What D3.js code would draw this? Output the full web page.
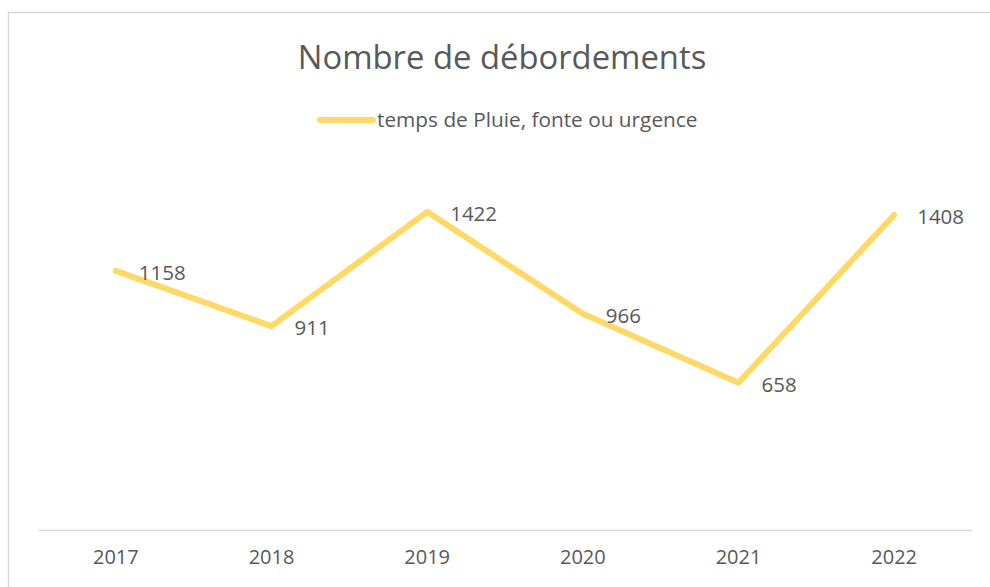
<!DOCTYPE html>
<html lang="fr">
<head>
    <meta charset="UTF-8">
    <title>Nombre de débordements</title>
    <script src="https://cdn.jsdelivr.net/npm/d3@7/dist/d3.min.js"></script>
    <style>
        body { margin: 0; background: #fff; }
        text { font-family: "Open Sans", sans-serif; fill: #595959; }
    </style>
</head>
<body>
    <svg width="990" height="587" id="mainsvg" style="display: block;"></svg>
    <script>
        const years = ["2017", "2018", "2019", "2020", "2021", "2022"];
        const values = [1158, 911, 1422, 966, 658, 1408];
        const seriesName = "temps de Pluie, fonte ou urgence";
        const title = "Nombre de débordements";

        const svg = d3.select("#mainsvg");
        const width = +svg.attr("width");
        const height = +svg.attr("height");
        const margin = {top: 172, right: 18, bottom: 57, left: 38};
        const innerWidth = width - margin.left - margin.right;
        const innerHeight = height - margin.top - margin.bottom;
        const lineColor = "#ffd966";

        // chart frame (only top and left edges are visible)
        svg.append("path")
            .attr("d", `M8.5,${height} V12.5 H${width}`)
            .attr("fill", "none")
            .attr("stroke", "#d9d9d9")
            .attr("stroke-width", 1.5);

        svg.append("text")
            .attr("x", 502).attr("y", 69)
            .attr("text-anchor", "middle")
            .attr("font-size", 32.8)
            .text(title);

        // legend
        const legend = svg.append("g").attr("transform", "translate(320, 120)");
        legend.append("line")
            .attr("x1", 0).attr("x2", 53)
            .attr("stroke", lineColor)
            .attr("stroke-width", 6)
            .attr("stroke-linecap", "round");
        legend.append("text")
            .attr("x", 57).attr("dy", "0.35em")
            .attr("font-size", 20.8)
            .text(seriesName);

        const g = svg.append("g")
            .attr("transform", `translate(${margin.left}, ${margin.top})`);

        const x = d3.scaleBand().domain(years).range([0, innerWidth]);
        const y = d3.scaleLinear().domain([0, 1600]).range([innerHeight, 0]);

        const xAxis = g.append("g")
            .attr("transform", `translate(0, ${innerHeight})`)
            .call(d3.axisBottom(x).tickSize(0).tickPadding(20));
        xAxis.select(".domain").attr("stroke", "#d9d9d9").attr("stroke-width", 1.5);
        xAxis.selectAll("text")
            .attr("font-size", 20)
            .attr("font-family", "Open Sans, sans-serif")
            .attr("fill", "#595959");

        const cx = d => x(d) + x.bandwidth() / 2;

        g.append("path")
            .datum(values)
            .attr("fill", "none")
            .attr("stroke", lineColor)
            .attr("stroke-width", 6)
            .attr("stroke-linecap", "round")
            .attr("stroke-linejoin", "round")
            .attr("d", d3.line().x((d, i) => cx(years[i])).y(d => y(d)));

        g.selectAll(".label").data(values).join("text")
            .attr("class", "label")
            .attr("x", (d, i) => cx(years[i]) + 23)
            .attr("y", d => y(d) + 2)
            .attr("dy", "0.35em")
            .attr("font-size", 20.5)
            .attr("fill", "#404040")
            .text(d => d);
    </script>
</body>
</html>
